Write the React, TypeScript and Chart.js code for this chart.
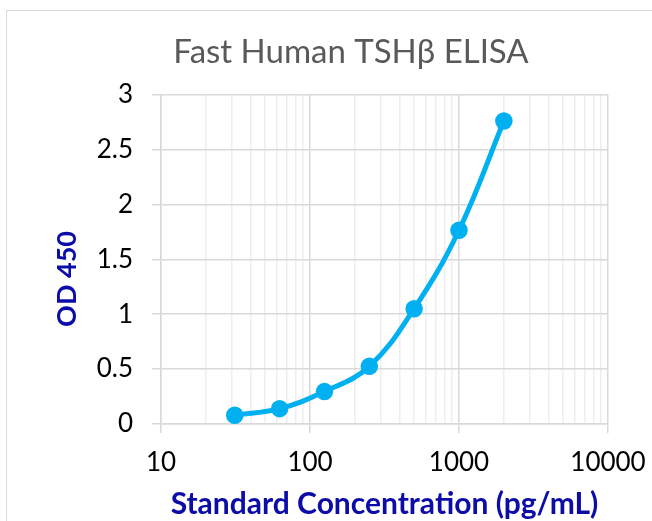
import React, { useEffect, useRef } from "react";
import { Chart, registerables } from "chart.js";

Chart.register(...registerables);

const concentrations = [31.25, 62.5, 125, 250, 500, 1000, 2000];
const od450 = [0.08, 0.14, 0.295, 0.525, 1.05, 1.765, 2.76];
const xTickLabels = [10, 100, 1000, 10000];
const yTickLabels = [0, 0.5, 1, 1.5, 2, 2.5, 3];

const FONT = "Lato, 'Open Sans', sans-serif";
const MAJOR = "#D9D9D9";
const MINOR = "#EEEEEE";
const BLUE = "#00B0F0";
const NAVY = "#0C0CA8";

const isDecade = (v: number) => Math.abs(Math.log10(v) - Math.round(Math.log10(v))) < 1e-9;

export default function App() {
  const ref = useRef<HTMLCanvasElement | null>(null);

  useEffect(() => {
    if (!ref.current) return;
    const gridValues: number[] = [];
    for (let d = 0; d < xTickLabels.length - 1; d++) {
      for (let m = 1; m < 10; m++) gridValues.push(xTickLabels[d] * m);
    }
    gridValues.push(xTickLabels[xTickLabels.length - 1]);

    const chart = new Chart(ref.current, {
      type: "line",
      data: {
        datasets: [
          {
            data: concentrations.map((x, i) => ({ x, y: od450[i] })),
            borderColor: BLUE,
            backgroundColor: BLUE,
            borderWidth: 5,
            pointRadius: 8.75,
            pointHoverRadius: 8.75,
            pointBorderWidth: 0,
            tension: 0.4,
            fill: false,
          },
        ],
      },
      options: {
        responsive: false,
        animation: false,
        layout: { padding: { left: 94, right: 44, top: 0, bottom: 0 } },
        plugins: {
          legend: { display: false },
          tooltip: { enabled: false },
          title: {
            display: true,
            text: "Fast Human TSHβ ELISA",
            color: "#595959",
            font: { family: FONT, size: 33, weight: "normal", lineHeight: 1.2 },
            padding: { top: 33, bottom: 22 },
          },
        },
        scales: {
          x: {
            type: "logarithmic",
            min: xTickLabels[0],
            max: xTickLabels[xTickLabels.length - 1],
            afterBuildTicks: (scale: any) => {
              scale.ticks = gridValues.map((v) => ({ value: v, major: isDecade(v) }));
            },
            afterFit: (scale: any) => {
              scale.height = 97;
              scale.paddingLeft = 0;
              scale.paddingRight = 0;
            },
            ticks: {
              autoSkip: false,
              maxRotation: 0,
              padding: 14,
              color: "#000000",
              font: { family: FONT, size: 26 },
              callback: (v: any) => (isDecade(Number(v)) ? String(v) : ""),
            },
            grid: {
              color: (ctx: any) => (ctx.tick && isDecade(ctx.tick.value) ? MAJOR : MINOR),
              tickColor: (ctx: any) => (ctx.tick && isDecade(ctx.tick.value) ? MAJOR : "rgba(0,0,0,0)"),
              tickLength: 9,
              lineWidth: 1.5,
            },
            border: { display: true, color: MAJOR, width: 1.5 },
            title: {
              display: true,
              text: "Standard Concentration (pg/mL)",
              color: NAVY,
              font: { family: FONT, size: 30, weight: "bold", lineHeight: 1 },
              padding: { top: 0, bottom: 1.5 },
            },
          },
          y: {
            type: "linear",
            min: yTickLabels[0],
            max: yTickLabels[yTickLabels.length - 1],
            afterBuildTicks: (scale: any) => {
              scale.ticks = yTickLabels.map((v) => ({ value: v }));
            },
            afterFit: (scale: any) => {
              scale.width = 67;
            },
            ticks: {
              padding: 19,
              color: "#000000",
              font: { family: FONT, size: 26 },
              callback: (v: any) => String(v),
            },
            grid: {
              color: MAJOR,
              tickColor: MAJOR,
              tickLength: 9,
              lineWidth: 1.5,
            },
            border: { display: true, color: MAJOR, width: 1.5 },
            title: {
              display: true,
              text: "OD 450\u00A0\u00A0\u00A0\u00A0\u00A0\u00A0",
              color: NAVY,
              font: { family: FONT, size: 27, weight: "bold", lineHeight: 1 },
              padding: { top: -40.5, bottom: 0 },
            },
          },
        },
      },
    });
    return () => chart.destroy();
  }, []);

  return (
    <div
      style={{
        position: "fixed",
        left: 0,
        top: 0,
        width: 652,
        height: 521,
        overflow: "hidden",
        background: "#ffffff",
      }}
    >
      <div
        style={{
          position: "absolute",
          left: 6,
          top: 10,
          width: 700,
          height: 600,
          border: "1.5px solid #D9D9D9",
          boxSizing: "border-box",
        }}
      />
      <canvas
        ref={ref}
        width={652}
        height={521}
        style={{ position: "absolute", left: 0, top: 0, width: 652, height: 521 }}
      />
    </div>
  );
}
